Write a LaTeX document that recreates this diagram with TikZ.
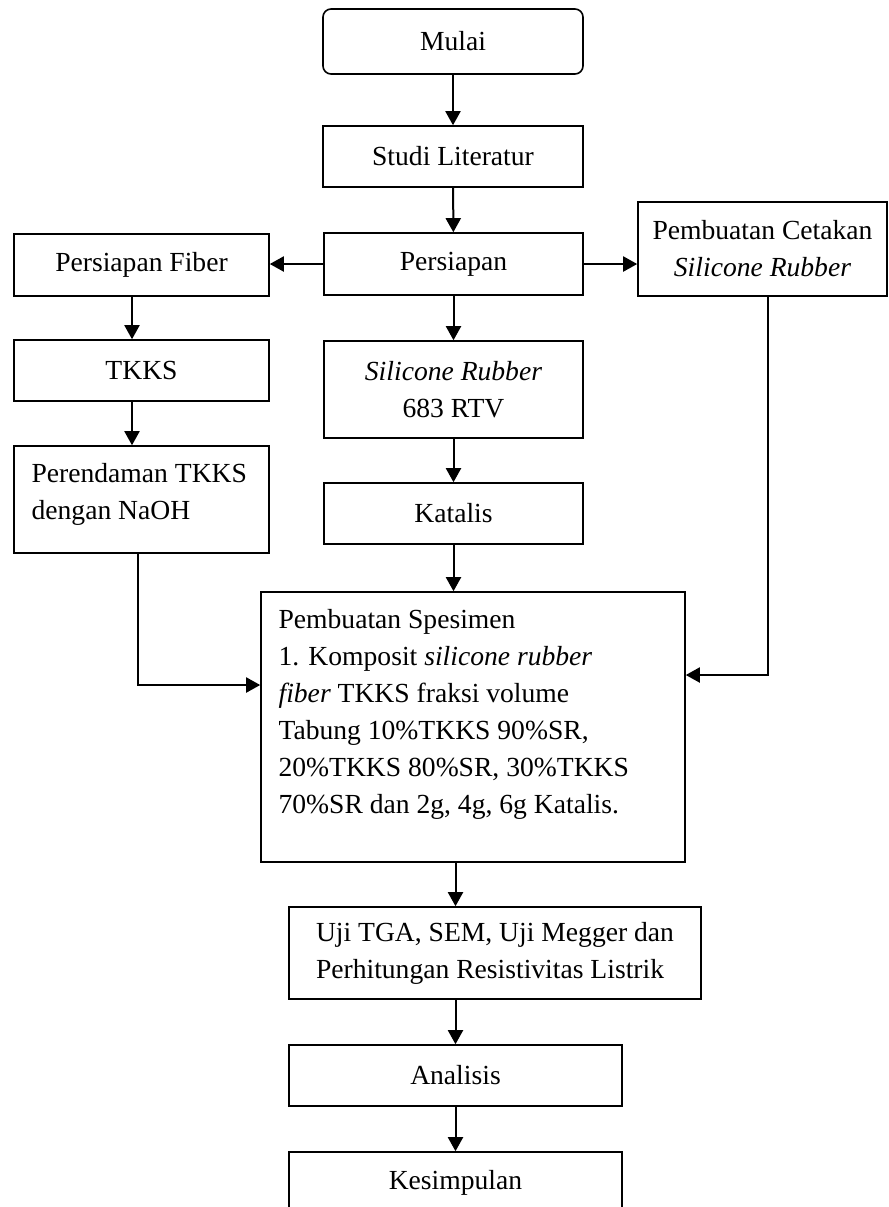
\documentclass[tikz,border=0pt]{standalone}
\usepackage{fontspec}
\setmainfont{Liberation Serif}
\usetikzlibrary{arrows.meta}
\begin{document}
\begin{tikzpicture}
[x=0.5pt,y=-0.5pt,
 every node/.style={font=\fontsize{13.8}{18.5}\selectfont},
 box/.style={rectangle,draw=black,line width=0.8pt,inner sep=0pt},
 startbox/.style={box,rounded corners=4pt},
 txt/.style={inner sep=0pt,align=left,anchor=north west},
 flow/.style={line width=1pt,-{Triangle[length=7pt,width=7.5pt]}}]
\useasboundingbox (0,0) rectangle (889,1207);
\clip (0,0) rectangle (889,1207);
\node [startbox,minimum width=130pt,minimum height=32.5pt] (mulai) at (453,41.5) {Mulai};
\node [box,minimum width=130pt,minimum height=30.5pt] (studi) at (453,156.5) {Studi Literatur};
\node [box,minimum width=129.5pt,minimum height=31pt] (persiapan) at (453.5,264) {Persiapan};
\node [box,minimum width=127.5pt,minimum height=31pt] (fiber) at (141.5,265) {Persiapan Fiber};
\node [box,minimum width=124.5pt,minimum height=47pt,align=center] (cetakan) at (762.5,249)
  {Pembuatan Cetakan\\\textit{Silicone Rubber}};
\node [box,minimum width=127.5pt,minimum height=30.5pt] (tkks) at (141.5,370.5) {TKKS};
\node [box,minimum width=129.5pt,minimum height=48.5pt,align=center] (rubber) at (453.5,389.5)
  {\textit{Silicone Rubber}\\683 RTV};
\node [box,minimum width=127.5pt,minimum height=53.5pt] (rendam) at (141.5,499.5) {};
\node [txt] (rendamtxt) at ([shift={(9pt,-9pt)}]rendam.north west)
  {Perendaman TKKS\\dengan NaOH};
\node [box,minimum width=129.5pt,minimum height=30.5pt] (katalis) at (453.5,513.5) {Katalis};
\node [box,minimum width=212pt,minimum height=135pt] (spesimen) at (473,727) {};
\node [txt] (spesimentxt) at ([shift={(9pt,-9pt)}]spesimen.north west)
  {Pembuatan Spesimen\\
   1. Komposit \textit{silicone rubber}\\
   \textit{fiber} TKKS fraksi volume\\
   Tabung 10\%TKKS 90\%SR,\\
   20\%TKKS 80\%SR, 30\%TKKS\\
   70\%SR dan 2g, 4g, 6g Katalis.};
\node [box,minimum width=206pt,minimum height=46pt,align=left] (uji) at (495,953)
  {Uji TGA, SEM, Uji Megger dan\\Perhitungan Resistivitas Listrik};
\node [box,minimum width=166.5pt,minimum height=30.5pt] (analisis) at (455.5,1075.5) {Analisis};
\node [box,minimum width=166.5pt,minimum height=30.5pt] (kesimpulan) at (455.5,1182.5) {Kesimpulan};
\draw [flow] (mulai) -- (studi);
\draw [flow] (studi) -- (persiapan);
\draw [flow] (persiapan.west) -- (persiapan.west -| fiber.east);
\draw [flow] (persiapan.east) -- (persiapan.east -| cetakan.west);
\draw [flow] ([xshift=-4.75pt]fiber.south) -- ([xshift=-4.75pt]tkks.north);
\draw [flow] ([xshift=-4.75pt]tkks.south) -- ([xshift=-4.75pt]rendam.north);
\draw [flow] (persiapan) -- (rubber);
\draw [flow] (rubber) -- (katalis);
\draw [flow] (katalis.south) -- (katalis.south |- spesimen.north);
\draw [flow] ([xshift=-1.75pt]rendam.south) |- ([yshift=21pt]spesimen.west);
\draw [flow] ([xshift=2.75pt]cetakan.south) |- ([yshift=26pt]spesimen.east);
\draw [flow] (analisis |- spesimen.south) -- (analisis |- uji.north);
\draw [flow] (analisis |- uji.south) -- (analisis);
\draw [flow] (analisis) -- (kesimpulan);
\end{tikzpicture}
\end{document}
